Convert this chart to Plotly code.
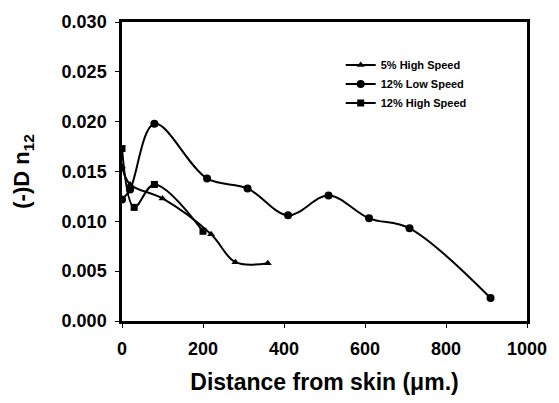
import plotly.graph_objects as go

x_5hs = [0, 20, 100, 220, 280, 360]
y_5hs = [0.0155, 0.0137, 0.0123, 0.0087, 0.0059, 0.0058]

x_12ls = [0, 20, 80, 210, 310, 410, 510, 610, 710, 910]
y_12ls = [0.0122, 0.0132, 0.0198, 0.0143, 0.0133, 0.0106, 0.0126, 0.0103, 0.0093, 0.0023]

x_12hs = [0, 30, 80, 200]
y_12hs = [0.0173, 0.0114, 0.0137, 0.0090]

x_ticks = [0, 200, 400, 600, 800, 1000]
y_ticks = [0.000, 0.005, 0.010, 0.015, 0.020, 0.025, 0.030]

FONT = "Liberation Sans, Arial, sans-serif"

fig = go.Figure()
series = [
    ("5% High Speed", x_5hs, y_5hs, "triangle-up", 7),
    ("12% Low Speed", x_12ls, y_12ls, "circle", 8),
    ("12% High Speed", x_12hs, y_12hs, "square", 7),
]
for name, xs, ys, sym, sz in series:
    fig.add_trace(go.Scatter(
        x=xs, y=ys, name=name, mode="lines+markers",
        line=dict(color="black", width=2, shape="spline", smoothing=1.0),
        marker=dict(symbol=sym, size=sz, color="black"),
    ))

axis_common = dict(
    showline=True, linecolor="black", linewidth=2.5, mirror=True,
    showgrid=False, zeroline=False,
    ticks="outside", ticklen=4, tickcolor="black", tickwidth=1,
    tickfont=dict(family=FONT, size=18, color="black", weight="bold"),
)

fig.update_layout(
    width=559, height=403,
    margin=dict(l=122, r=26, t=22, b=80),
    paper_bgcolor="white", plot_bgcolor="white",
    showlegend=True,
    legend=dict(
        x=0.54, y=0.905, xanchor="left", yanchor="top",
        bgcolor="rgba(0,0,0,0)", borderwidth=0,
        font=dict(family=FONT, size=11, color="black", weight="bold"),
        itemwidth=30, tracegroupgap=0,
    ),
    xaxis=dict(
        range=[0, 1000], tickvals=x_ticks, ticktext=[str(v) for v in x_ticks],
        ticklabelstandoff=6,
        title=dict(text="Distance from skin (\u03bcm.)", standoff=16,
                   font=dict(family=FONT, size=23, color="black", weight="bold")),
        **axis_common,
    ),
    yaxis=dict(
        range=[0, 0.030], tickvals=y_ticks, ticktext=[f"{v:.3f}" for v in y_ticks],
        ticklabelstandoff=5,
        title=dict(text="(-)D n<sub>12</sub>", standoff=26,
                   font=dict(family=FONT, size=22, color="black", weight="bold")),
        **axis_common,
    ),
)

fig.write_html("out.html")
